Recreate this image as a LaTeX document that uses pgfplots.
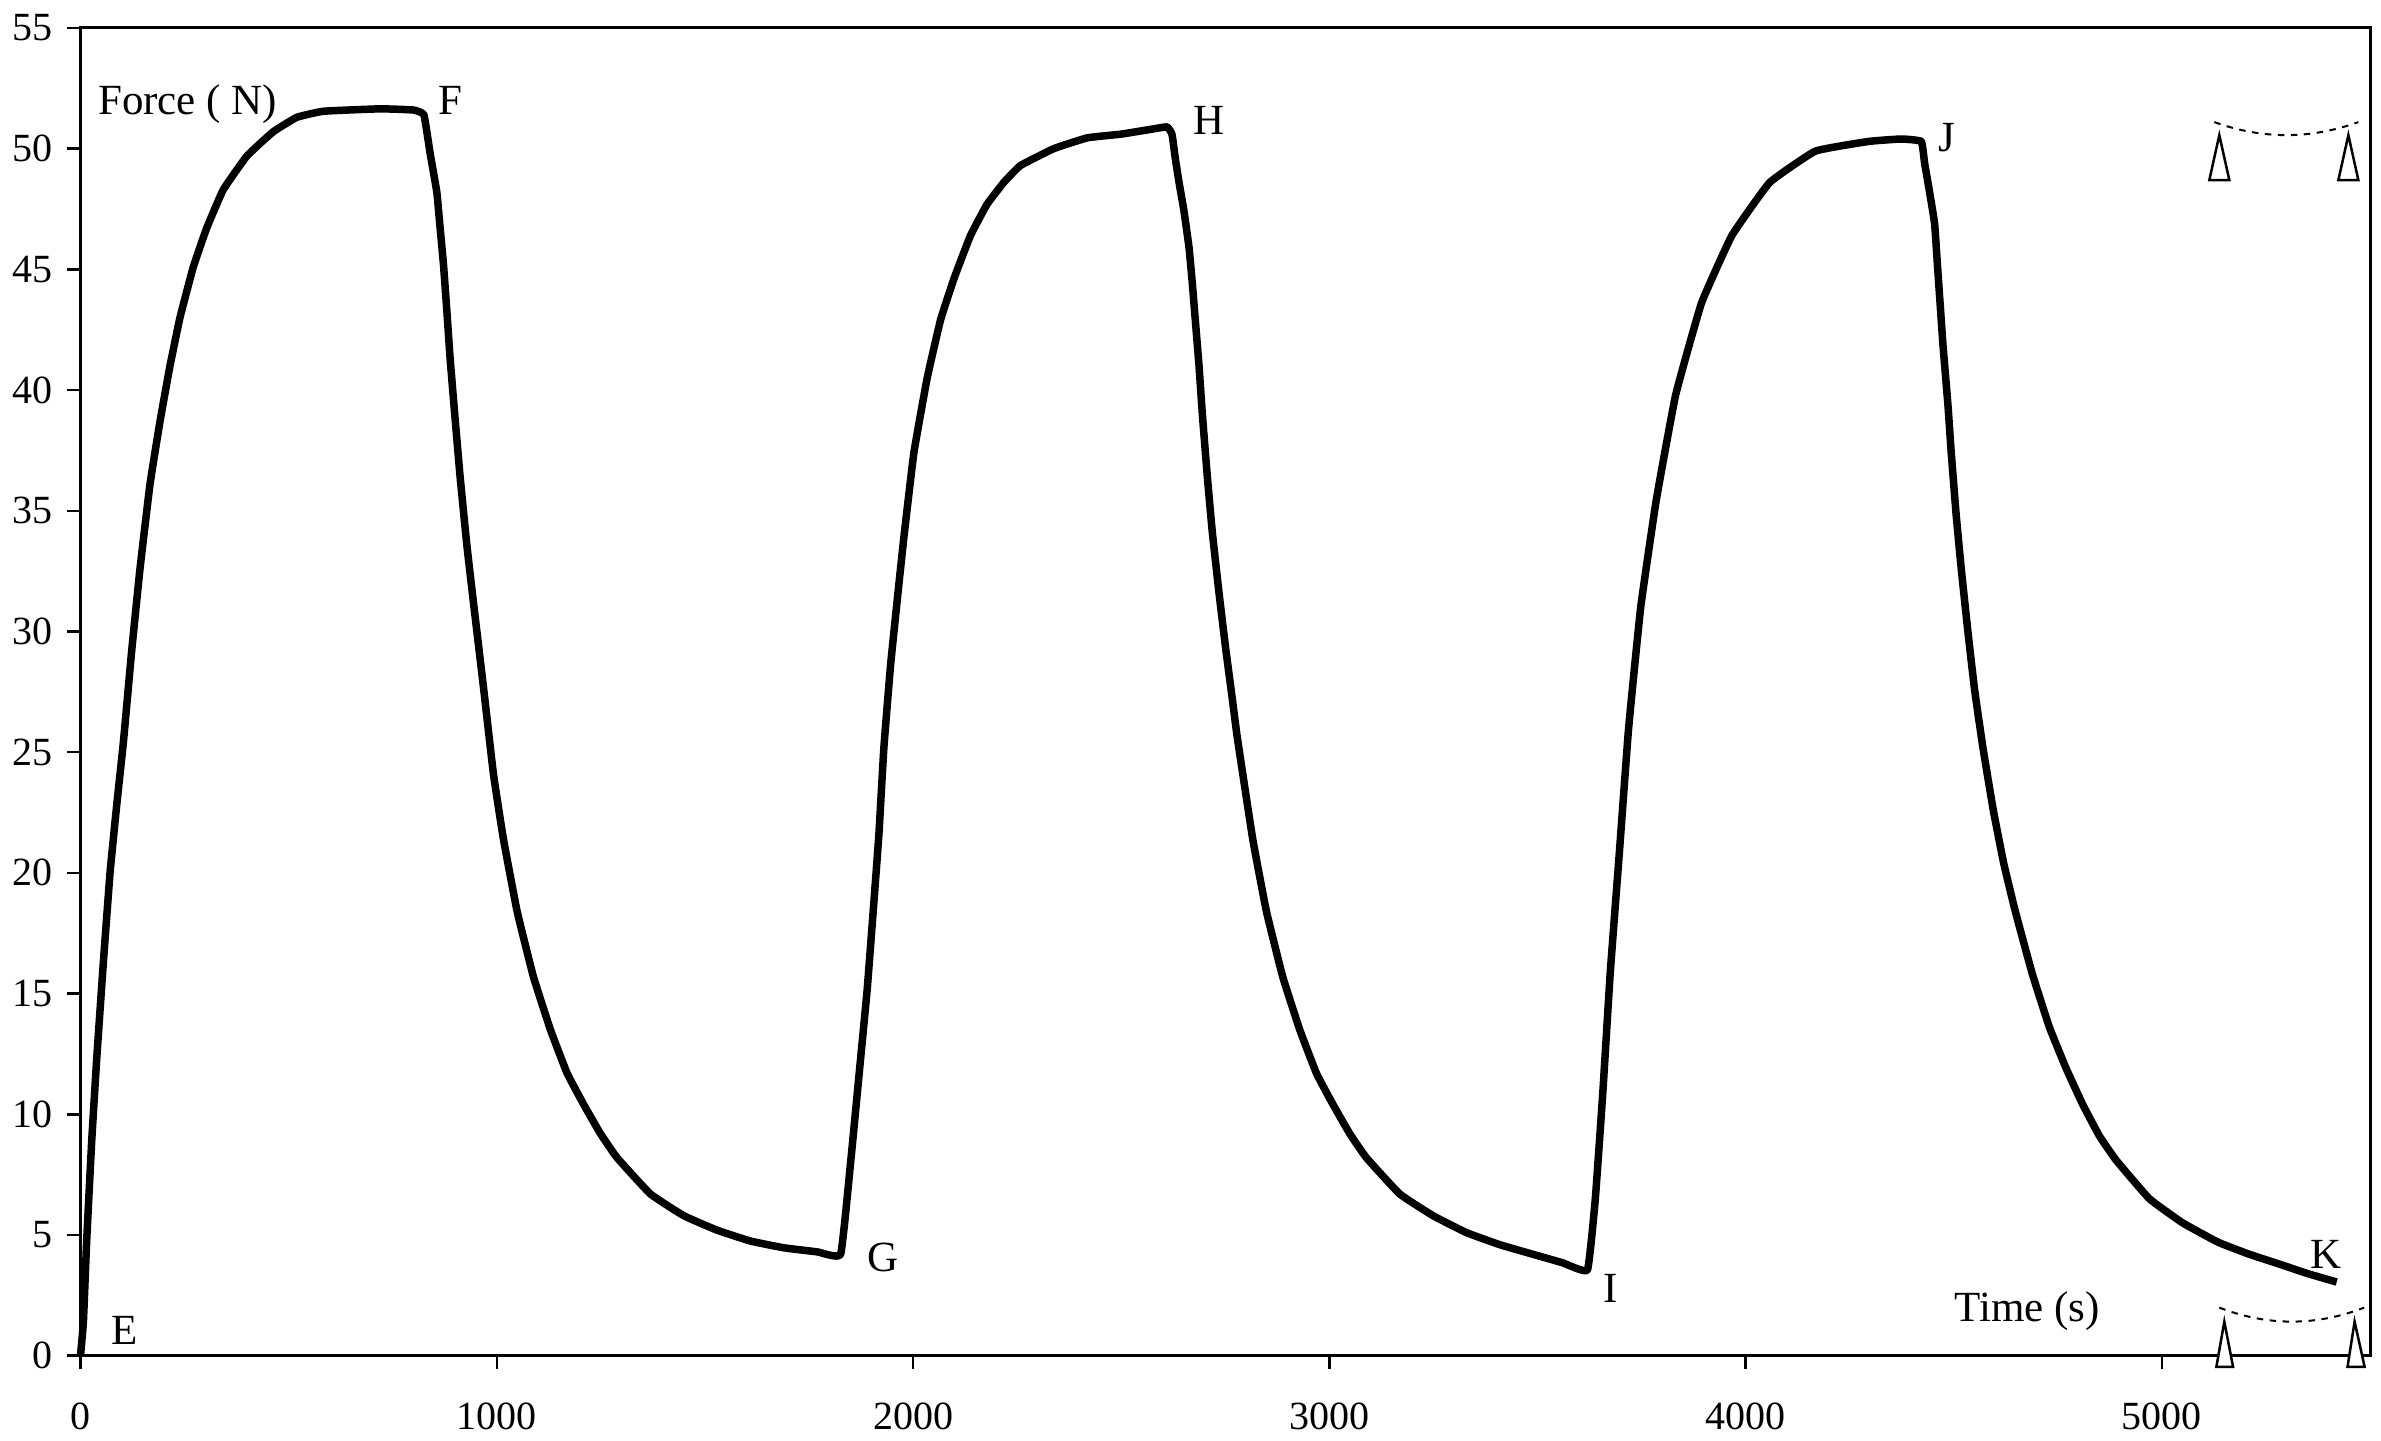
\documentclass[border=0pt]{standalone}
\usepackage{fontspec}
\setmainfont{Liberation Serif}
\usepackage{pgfplots}
\pgfplotsset{compat=1.18}
\usetikzlibrary{calc}

\pgfplotstableread{
t F
0 0
7 1.4
15 4.8
27 8.9
39 12.3
55 16.3
71 20.0
87 22.8
103 25.4
123 29.2
143 32.6
167 36.1
191 38.7
215 41.0
239 43.0
271 45.1
303 46.7
343 48.3
400 49.7
463 50.7
520 51.3
584 51.55
720 51.65
800 51.6
825 51.4
840 49.8
856 48.2
864 46.7
872 45.2
880 43.3
888 41.3
900 38.8
912 36.4
928 33.6
944 31.2
968 27.7
992 24.1
1016 21.4
1049 18.4
1088 15.7
1129 13.5
1169 11.7
1209 10.4
1249 9.2
1289 8.2
1369 6.7
1449 5.8
1529 5.2
1609 4.75
1689 4.47
1770 4.3
1826 4.2
1850 8.0
1874 12.3
1890 15.2
1906 18.8
1918 21.6
1930 25.2
1946 28.6
1962 31.3
1978 33.9
2002 37.4
2034 40.5
2066 42.9
2098 44.6
2138 46.4
2178 47.7
2218 48.6
2258 49.3
2338 50.0
2419 50.45
2499 50.6
2571 50.8
2610 50.9
2622 50.6
2630 49.6
2639 48.6
2651 47.4
2663 45.9
2671 44.4
2679 42.7
2687 41.0
2695 39.0
2707 36.4
2719 34.1
2735 31.6
2751 29.3
2767 27.2
2779 25.6
2816 21.4
2849 18.4
2888 15.7
2929 13.5
2969 11.7
3009 10.4
3049 9.2
3089 8.2
3169 6.7
3249 5.8
3329 5.1
3409 4.6
3489 4.2
3560 3.85
3620 3.55
3639 6.5
3657 10.9
3675 15.9
3697 20.9
3719 26.0
3748 31.0
3785 35.4
3832 39.8
3894 43.6
3967 46.4
4058 48.6
4168 49.9
4296 50.3
4374 50.4
4422 50.3
4430 49.4
4442 48.2
4454 46.9
4460 45.4
4466 43.9
4474 41.9
4486 39.4
4494 37.4
4506 34.8
4518 32.6
4534 30.0
4550 27.6
4570 25.2
4595 22.6
4620 20.4
4648 18.4
4689 15.8
4730 13.6
4770 11.9
4810 10.4
4850 9.1
4890 8.1
4970 6.5
5050 5.5
5135 4.7
5210 4.2
5281 3.8
5350 3.4
5420 3.05
}\force

\begin{document}
\begin{tikzpicture}
\begin{axis}[
  name=ax,
  width=458bp, height=265.6bp, scale only axis,
  xmin=0, xmax=5500, ymin=0, ymax=55,
  xtick={0,1000,...,5000}, ytick={0,5,...,55},
  tick align=outside, tick pos=left,
  major tick length=2.6bp,
  axis line style={line width=0.6bp},
  every tick/.style={black, line width=0.5bp},
  /pgf/number format/assume math mode=true,
  /pgf/number format/set thousands separator={},
  xticklabel style={font=\fontsize{8bp}{9bp}\selectfont, inner sep=0pt, anchor=north, yshift=-6.6bp},
  yticklabel style={font=\fontsize{8bp}{9bp}\selectfont, inner sep=0pt, anchor=east, xshift=-2.8bp},
  clip=false,
]
\addplot[black, line width=1.5bp, line join=round, smooth, tension=0.2] table[x=t, y=F] {\force};

\begin{scope}[every node/.style={anchor=base west, inner sep=0pt, font=\fontsize{8.6bp}{10bp}\selectfont}]
\node at (axis cs:40,51.4) {Force ( N)};
\node at (axis cs:857,51.4) {F};
\node at (axis cs:2672,50.6) {H};
\node at (axis cs:4461,49.9) {J};
\node at (axis cs:1888,3.5) {G};
\node at (axis cs:3657,2.2) {I};
\node at (axis cs:5355,3.6) {K};
\node at (axis cs:71,0.45) {E};
\node at (axis cs:4499,1.4) {Time (s)};
\end{scope}

% support sketches
\draw[line width=0.5bp, fill=white] (axis cs:5114,48.7) -- (axis cs:5138,50.56) -- (axis cs:5162,48.7) -- cycle;
\draw[line width=0.5bp, fill=white] (axis cs:5424,48.7) -- (axis cs:5448,50.56) -- (axis cs:5472,48.7) -- cycle;
\draw[line width=0.4bp, dash pattern=on 1.3bp off 1.3bp] (axis cs:5126,51.1) .. controls (axis cs:5242,50.38) and (axis cs:5356,50.38) .. (axis cs:5472,51.1);
\draw[line width=0.5bp, fill=white] (axis cs:5131,-0.46) -- (axis cs:5150,1.41) -- (axis cs:5171,-0.46) -- cycle;
\draw[line width=0.5bp, fill=white] (axis cs:5446,-0.46) -- (axis cs:5463,1.41) -- (axis cs:5487,-0.46) -- cycle;
\draw[line width=0.4bp, dash pattern=on 1.3bp off 1.3bp] (axis cs:5138,1.99) .. controls (axis cs:5254,1.217) and (axis cs:5370,1.217) .. (axis cs:5486,1.99);
\end{axis}
\pgfresetboundingbox
\path ($(ax.south west)+(-16.1bp,-17bp)$) rectangle ($(ax.north east)+(2.2bp,5.6bp)$);
\end{tikzpicture}
\end{document}
